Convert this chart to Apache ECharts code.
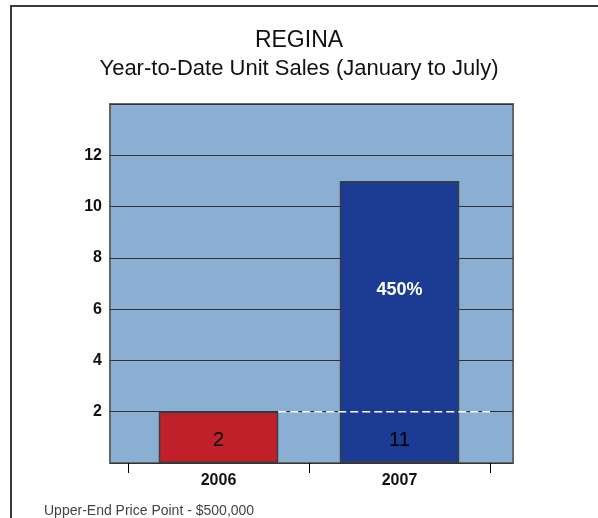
<!DOCTYPE html>
<html>
<head>
<meta charset="utf-8">
<style>
  html, body { margin: 0; padding: 0; background: #ffffff; }
  #chart { width: 598px; height: 518px; }
</style>
<script src="https://cdn.jsdelivr.net/npm/echarts@6/dist/echarts.min.js"></script>
</head>
<body>
<div id="chart"></div>
<script>
// ---- data ----
const categories = ['2006', '2007'];
const unitSales = [2, 11];
const barColors = ['#c0202a', '#1b3c92'];
const yTicks = { min: 0, max: 14, interval: 2 };
const titleText = 'REGINA';
const subtitleText = 'Year-to-Date Unit Sales (January to July)';
const footerText = 'Upper-End Price Point - $500,000';

// ---- derived ----
const FONT = '"Liberation Sans", Arial, sans-serif';
const barFrac = 0.66;
const pctChange = Math.round((unitSales[1] - unitSales[0]) / unitSales[0] * 100) + '%';
const baseLine = [[0 + barFrac / 2, unitSales[0]], [categories.length - 0.5, unitSales[0]]];

const chart = echarts.init(document.getElementById('chart'), null, { renderer: 'canvas' });

chart.setOption({
  animation: false,
  backgroundColor: '#ffffff',
  graphic: [{
    type: 'rect',
    shape: { x: 11, y: 6, width: 800, height: 800 },
    style: { fill: 'none', stroke: '#3a3a3a', lineWidth: 2 },
    silent: true
  }],
  title: [
    { text: titleText, left: 'center', top: 24,
      textStyle: { fontFamily: FONT, fontSize: 23, fontWeight: 'normal', color: '#111' } },
    { text: subtitleText, left: 'center', top: 53,
      textStyle: { fontFamily: FONT, fontSize: 22, fontWeight: 'normal', color: '#111' } },
    { text: footerText, left: 39, top: 499,
      textStyle: { fontFamily: FONT, fontSize: 14, fontWeight: 'normal', color: '#444' } }
  ],
  grid: [
    { left: 110, right: 85, top: 104, bottom: 55, show: true,
      backgroundColor: '#8aafd3', borderColor: '#666', borderWidth: 2, containLabel: false },
    { left: 128, right: 108, top: 104, bottom: 55, containLabel: false }
  ],
  xAxis: [
    { type: 'category', gridIndex: 1, data: categories, boundaryGap: true,
      axisLine: { show: false },
      axisTick: { show: true, length: 10, lineStyle: { color: '#000', width: 1 } },
      axisLabel: { margin: 10, fontFamily: FONT, fontSize: 16, fontWeight: 'bold', color: '#111' },
      splitLine: { show: false } },
    { type: 'value', gridIndex: 1, min: -0.5, max: categories.length - 0.5, show: false },
    { type: 'value', gridIndex: 0, min: 0, max: 1, show: false }
  ],
  yAxis: [
    { type: 'value', gridIndex: 0, min: yTicks.min, max: yTicks.max, interval: yTicks.interval,
      axisLine: { show: false }, axisTick: { show: false },
      axisLabel: { margin: 8, fontFamily: FONT, fontSize: 16, fontWeight: 'bold', color: '#111',
                   showMinLabel: false, showMaxLabel: false },
      splitLine: { show: true, lineStyle: { color: '#333', width: 1 } } },
    { type: 'value', gridIndex: 1, min: yTicks.min, max: yTicks.max, show: false }
  ],
  series: [
    {
      name: 'Unit Sales', type: 'bar', xAxisIndex: 0, yAxisIndex: 1,
      barWidth: (barFrac * 100) + '%', barGap: '-100%',
      data: unitSales.map((v, i) => ({ value: v, itemStyle: { color: barColors[i] } })),
      itemStyle: { borderColor: '#3d3d3d', borderWidth: 1.5 },
      label: { show: true, position: 'insideBottom', distance: 13,
               fontFamily: FONT, fontSize: 20, color: '#000' }
    },
    {
      name: 'Change', type: 'bar', xAxisIndex: 0, yAxisIndex: 1,
      barWidth: (barFrac * 100) + '%', barGap: '-100%',
      data: ['-', unitSales[1]],
      itemStyle: { color: 'rgba(0,0,0,0)' },
      label: { show: true, position: 'inside', offset: [0, -32], formatter: pctChange,
               fontFamily: FONT, fontSize: 18, fontWeight: 'bold', color: '#fff' },
      silent: true
    },
    {
      name: 'Base', type: 'line', xAxisIndex: 1, yAxisIndex: 1,
      data: baseLine, symbol: 'none', silent: true, z: 5,
      lineStyle: { color: '#ffffff', width: 1.5, type: [8, 4] }
    }
  ]
});
</script>
</body>
</html>
